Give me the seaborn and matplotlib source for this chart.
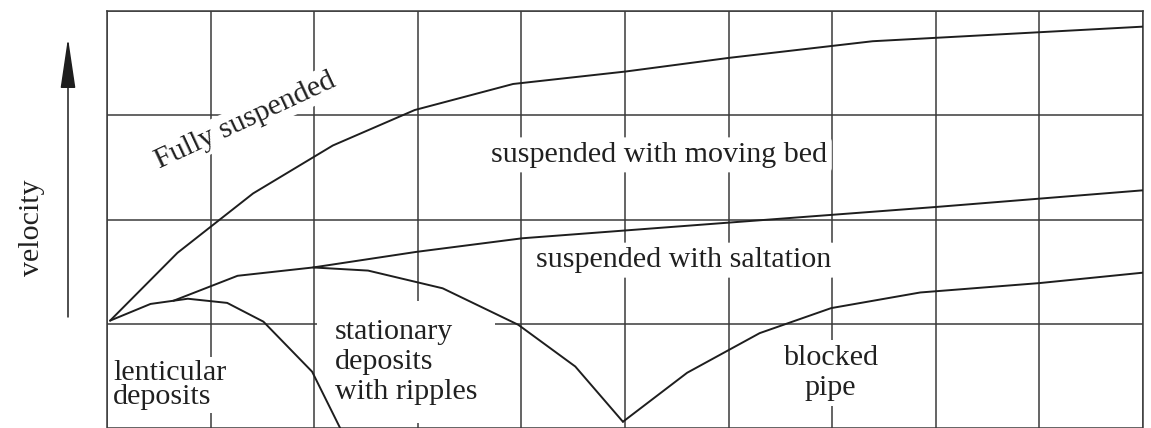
import matplotlib
matplotlib.use("Agg")
import matplotlib.pyplot as plt
import seaborn as sns

# Regime boundaries for slurry flow in a pipe (x: concentration/particle size axis in grid units,
# y: velocity in grid units)
upper_x = [0.03, 0.68, 1.41, 2.18, 2.97, 3.92, 5.01, 6.00, 7.39, 10.0]
upper_y = [1.03, 1.68, 2.25, 2.71, 3.05, 3.30, 3.42, 3.55, 3.71, 3.85]

lenticular_x = [0.03, 0.42, 0.78, 1.16, 1.51, 1.98, 2.25]
lenticular_y = [1.03, 1.19, 1.24, 1.20, 1.02, 0.54, 0.0]

saltation_x = [0.64, 1.26, 1.99, 2.99, 4.01, 6.00, 8.00, 10.0]
saltation_y = [1.22, 1.46, 1.54, 1.69, 1.82, 1.97, 2.12, 2.28]

ripples_x = [1.99, 2.52, 3.24, 3.97, 4.52, 4.98]
ripples_y = [1.54, 1.51, 1.34, 0.99, 0.59, 0.06]

blocked_x = [4.98, 5.60, 6.30, 6.99, 7.85, 9.00, 10.0]
blocked_y = [0.06, 0.53, 0.91, 1.15, 1.30, 1.39, 1.49]

regime_labels = ["Fully suspended", "suspended with moving bed", "suspended with saltation",
                 "lenticular\ndeposits", "stationary\ndeposits\nwith ripples", "blocked\npipe"]
axis_label = "velocity"

sns.set_style("white")
plt.rcParams["font.family"] = ["Liberation Serif", "DejaVu Serif"]

INK = "#202020"
GRID = "#3a3a3a"
FS = 21.6

fig = plt.figure(figsize=(11.51, 4.28), dpi=100)
ax = fig.add_axes([107 / 1151, 0, 1036 / 1151, 417 / 428])
ax.set_xlim(0, 10)
ax.set_ylim(0, 4)
ax.set_xticks(range(0, 11))
ax.set_yticks(range(0, 5))
ax.tick_params(length=0, labelleft=False, labelbottom=False)
ax.grid(True, color=GRID, linewidth=1.1)
ax.set_axisbelow(True)
for side in ("top", "left", "right"):
    ax.spines[side].set_color(GRID)
    ax.spines[side].set_linewidth(1.1)
ax.spines["bottom"].set_visible(False)

for xs, ys in [(upper_x, upper_y), (lenticular_x, lenticular_y), (saltation_x, saltation_y),
               (ripples_x, ripples_y), (blocked_x, blocked_y)]:
    sns.lineplot(x=xs, y=ys, sort=False, estimator=None, color="#1e1e1e",
                 linewidth=1.4, ax=ax, zorder=4)

box = dict(facecolor="white", edgecolor="none", boxstyle="square,pad=0.1")

ax.text(1.34, 2.95, regime_labels[0], rotation=25, rotation_mode="anchor",
        ha="center", va="center", fontsize=FS, color=INK, bbox=box, zorder=3)
ax.text(5.33, 2.62, regime_labels[1], ha="center", va="center",
        fontsize=FS, color=INK, bbox=dict(box, boxstyle="round,pad=0.15"), zorder=3)
ax.text(5.57, 1.61, regime_labels[2], ha="center", va="center",
        fontsize=FS, color=INK, bbox=dict(box, boxstyle="round,pad=0.15"), zorder=3)
ax.text(0.058, 0.657, regime_labels[3], ha="left", va="top", linespacing=0.92,
        fontsize=FS, color=INK, bbox=box, zorder=3)
ax.text(2.2, 1.05, regime_labels[4], ha="left", va="top", linespacing=1.2,
        fontsize=FS, color=INK, bbox=dict(box, boxstyle="square,pad=0.6"), zorder=3)
ax.text(6.98, 0.80, regime_labels[5], ha="center", va="top", linespacing=1.24,
        multialignment="center", fontsize=FS, color=INK,
        bbox=dict(box, boxstyle="square,pad=0.15"), zorder=3)

# Velocity axis: upward arrow with its label
fig.text(32 / 1151, 1 - 228 / 428, axis_label, rotation=90, ha="center", va="center",
         fontsize=FS, color=INK)
ax.annotate("", xy=(68, 390), xytext=(68, 111), xycoords="figure pixels",
            textcoords="figure pixels",
            arrowprops=dict(arrowstyle="-|>,head_length=31.7,head_width=4.7",
                            mutation_scale=1, color="#1e1e1e", lw=1.1,
                            shrinkA=0, shrinkB=0))

fig.savefig("out.png", dpi=100)
